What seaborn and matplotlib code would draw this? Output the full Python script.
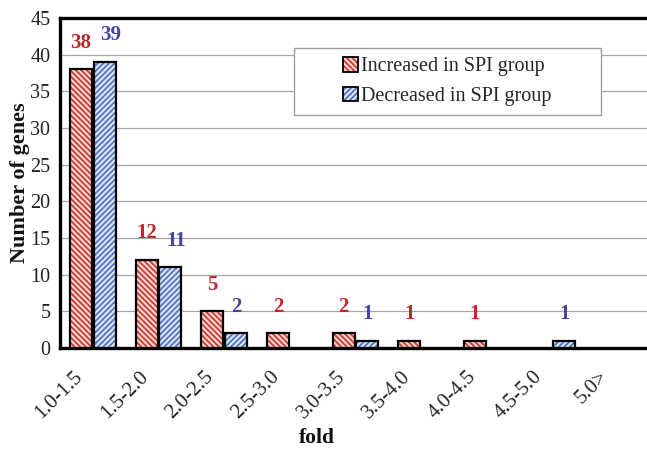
import matplotlib
matplotlib.use("Agg")
import numpy as np
import pandas as pd
import matplotlib.pyplot as plt
import matplotlib.transforms as mtransforms
from matplotlib.patches import Patch, Rectangle
from matplotlib.path import Path
from matplotlib.legend_handler import HandlerTuple
import seaborn as sns

fold_bins = ["1.0-1.5", "1.5-2.0", "2.0-2.5", "2.5-3.0", "3.0-3.5",
             "3.5-4.0", "4.0-4.5", "4.5-5.0", "5.0>"]
increased = [38, 12, 5, 2, 2, 1, 1, 0, 0]
decreased = [39, 11, 2, 0, 1, 0, 0, 1, 0]
groups = ["Increased in SPI group", "Decreased in SPI group"]

df = pd.DataFrame({
    "fold": fold_bins * 2,
    "group": [groups[0]] * len(fold_bins) + [groups[1]] * len(fold_bins),
    "genes": increased + decreased,
})

stripe = {groups[0]: "#cc3b35", groups[1]: "#5475c4"}
base = {groups[0]: "#f6d8d2", groups[1]: "#dde4f6"}
hatches = {groups[0]: "\\\\\\\\\\\\", groups[1]: "//////"}
txt_col = {groups[0]: "#c0262c", groups[1]: "#4346a3"}

sns.set_theme(style="white")
plt.rcParams["font.family"] = ["Liberation Serif", "DejaVu Serif"]
plt.rcParams["hatch.linewidth"] = 1.3

fig = plt.figure(figsize=(6.47, 4.49), dpi=100)
ax = fig.add_axes([0.0927, 0.2249, 0.9134, 0.7350])

sns.barplot(data=df, x="fold", y="genes", hue="group", hue_order=groups,
            palette=base, width=0.72, gap=0.08, saturation=1,
            legend=False, ax=ax, zorder=3)

# striped fill + black outline drawn on top
for i, (grp, cont) in enumerate(zip(groups, ax.containers)):
    for bar in cont:
        bar.set_facecolor(base[grp])
        bar.set_edgecolor(stripe[grp])
        bar.set_hatch(hatches[grp])
        bar.set_linewidth(0)
        if bar.get_height() > 0:
            ax.add_patch(Rectangle(bar.get_xy(), bar.get_width(), bar.get_height(),
                                   fill=False, edgecolor="black", linewidth=1.6, zorder=4))
    vals = [int(v) for v in cont.datavalues]
    anns = ax.bar_label(cont, labels=[str(v) if v else "" for v in vals], padding=12,
                        color=txt_col[grp], fontsize=15, fontweight="bold")
    # the two-digit blue labels sit a bit to the right so they don't touch the red ones
    if i == 1:
        for ann, v in zip(anns, vals):
            if v >= 10:
                ann.xyann = (4, 12)

ax.set_ylim(0, 45)
ax.set_yticks(range(0, 46, 5))
ax.grid(axis="y", color="#a6a6a6", linewidth=0.9)
ax.set_axisbelow(True)

ax.set_xticks(np.arange(len(fold_bins)) + 0.5, minor=True)
ax.tick_params(axis="x", which="major", length=0, pad=19, labelsize=15, labelcolor="#222222")
ax.tick_params(axis="x", which="minor", direction="in", length=4, width=1, color="#999999")
ax.tick_params(axis="y", length=0, pad=7, labelsize=14.5, labelcolor="#222222")
shift = mtransforms.ScaledTranslation(-0.13, 0, fig.dpi_scale_trans)
for lab in ax.get_xticklabels():
    lab.set_rotation(45)
    lab.set_ha("right")
    lab.set_va("center")
    lab.set_rotation_mode("anchor")
    lab.set_transform(lab.get_transform() + shift)

for side in ["top", "left", "bottom"]:
    ax.spines[side].set_linewidth(2.4)
    ax.spines[side].set_color("black")
ax.spines["right"].set_visible(False)

ax.set_ylabel("Number of genes", fontsize=16, fontweight="bold", color="#111111")
ax.yaxis.set_label_coords(-0.05, 0.5)
ax.set_xlabel("fold", fontsize=15.5, fontweight="bold", color="#111111")
ax.xaxis.set_label_coords(0.435, -0.242)

handles = [(Patch(facecolor=base[g], edgecolor=stripe[g], hatch=hatches[g], linewidth=0),
            Patch(fill=False, edgecolor="black", linewidth=1.3)) for g in groups]
leg = ax.legend(handles, groups, loc="upper right", bbox_to_anchor=(0.847, 0.909),
                borderaxespad=0, fontsize=14.5, handlelength=0.75, handleheight=0.75,
                handletextpad=0.15, labelspacing=0.5, borderpad=0.45,
                fancybox=False, edgecolor="#a0a0a0", facecolor="white", framealpha=1,
                handler_map={tuple: HandlerTuple(ndivide=1, pad=0)})
leg.get_frame().set_linewidth(1.0)


def wide_frame(x0, y0, width, height, mutation_size):
    # wide side margins like the original legend box
    px = 2.0 * mutation_size
    x1, y1 = x0 + width, y0 + height
    return Path([(x0 - px, y0), (x1 + px, y0), (x1 + px, y1), (x0 - px, y1), (x0 - px, y0)],
                closed=True)


leg.get_frame().set_boxstyle(wide_frame)
leg.set_zorder(6)

fig.savefig("out.png", dpi=100)
